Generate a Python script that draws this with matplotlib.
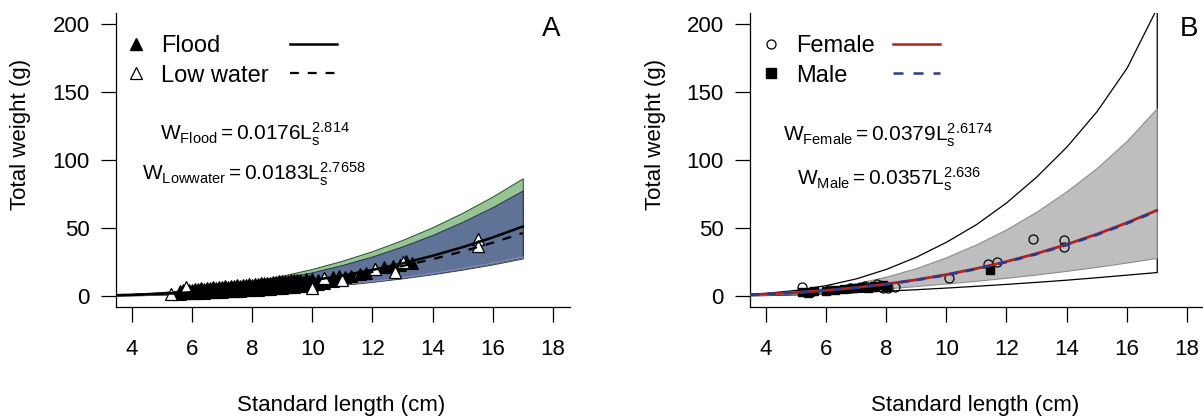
import matplotlib
matplotlib.use('Agg')
from matplotlib import pyplot as plt
from matplotlib.lines import Line2D

plt.rcParams['font.family'] = ['Liberation Sans', 'DejaVu Sans']
plt.rcParams['mathtext.fontset'] = 'custom'
plt.rcParams['mathtext.rm'] = 'Liberation Sans'
plt.rcParams['mathtext.it'] = 'Liberation Sans:italic'

# standard lengths (cm) where the fitted curves / bands are read
lengths = [3.5, 4, 5, 6, 7, 8, 9, 10, 11, 12, 13, 14, 15, 16, 17]

# panel A - fitted curves and bands (g)
flood_fit = [0.60, 0.87, 1.63, 2.73, 4.20, 6.12, 8.53, 11.47, 15.00, 19.16, 23.99, 29.56, 35.90, 43.05, 51.05]
flood_upper = [0.91, 1.32, 2.48, 4.15, 6.39, 9.30, 12.96, 17.43, 22.8, 29.1, 36.5, 44.9, 54.6, 65.4, 77.6]
flood_lower = [0.34, 0.49, 0.91, 1.53, 2.35, 3.43, 4.77, 6.42, 8.40, 10.73, 13.43, 16.55, 20.10, 24.11, 28.6]
low_fit = [0.585, 0.847, 1.569, 2.598, 3.979, 5.756, 7.974, 10.67, 13.89, 17.67, 22.05, 27.07, 32.76, 39.15, 46.30]
low_upper = [1.09, 1.58, 2.93, 4.86, 7.44, 10.76, 14.91, 19.95, 25.97, 33.04, 41.23, 50.62, 61.26, 73.21, 86.58]
low_lower = [0.33, 0.48, 0.90, 1.50, 2.30, 3.35, 4.65, 6.25, 8.15, 10.40, 13.00, 16.00, 19.40, 23.20, 27.6]

# panel A - observations (flood: filled triangles, low water: open triangles)
flood_len = [5.6, 5.6, 5.7, 5.7, 5.7, 5.8, 5.8, 5.9, 5.9, 5.9,
             6.0, 6.0, 6.1, 6.1, 6.1, 6.2, 6.2, 6.3, 6.3, 6.3,
             6.4, 6.4, 6.5, 6.5, 6.5, 6.6, 6.6, 6.7, 6.7, 6.7,
             6.8, 6.8, 6.9, 6.9, 6.9, 7.0, 7.0, 7.1, 7.1, 7.1,
             7.2, 7.2, 7.3, 7.3, 7.3, 7.4, 7.4, 7.5, 7.5, 7.5,
             7.6, 7.6, 7.7, 7.7, 7.7, 7.8, 7.8, 7.9, 7.9, 7.9,
             8.0, 8.0, 8.1, 8.1, 8.1, 8.2, 8.2, 8.3, 8.3, 8.3,
             8.4, 8.4, 8.5, 8.5, 8.5, 8.6, 8.6, 8.7, 8.7, 8.7,
             8.8, 8.8, 8.9, 8.9, 8.9, 9.0, 9.0, 9.1, 9.1, 9.1,
             9.2, 9.2, 9.3, 9.3, 9.3, 9.4, 9.4, 9.5, 9.5, 9.5,
             9.6, 9.6, 9.7, 9.7, 9.8, 9.8, 9.9, 9.9, 10.0, 10.0,
             10.2, 10.2, 10.4, 10.4, 10.7, 10.7, 10.9, 10.9, 11.1, 11.3,
             11.6, 11.8, 12.1, 12.4, 12.7, 12.9, 13.1, 13.3]
flood_wt = [1.8, 3.6, 2.0, 3.0, 4.2, 1.9, 3.9, 2.2, 3.2, 4.6,
            2.1, 4.4, 2.4, 3.6, 5.3, 2.3, 4.8, 2.6, 3.9, 5.6,
            2.5, 5.2, 2.8, 4.2, 6.1, 2.7, 5.6, 3.0, 4.5, 6.5,
            2.9, 6.0, 3.3, 4.9, 6.7, 3.2, 6.4, 3.5, 5.2, 7.0,
            3.4, 6.7, 3.8, 5.5, 7.4, 3.6, 7.0, 4.0, 5.8, 7.8,
            3.9, 7.4, 4.3, 6.2, 8.2, 4.1, 7.8, 4.6, 6.6, 8.6,
            4.4, 8.3, 4.8, 7.0, 9.0, 4.7, 8.8, 5.1, 7.4, 9.4,
            5.0, 9.3, 5.4, 7.8, 9.9, 5.3, 9.8, 5.8, 8.3, 10.4,
            5.7, 10.3, 6.1, 8.7, 10.9, 6.0, 10.8, 6.5, 9.2, 11.3,
            6.4, 11.2, 6.9, 9.6, 11.8, 6.8, 11.6, 7.3, 10.1, 12.1,
            7.2, 12.0, 7.8, 10.5, 7.6, 12.4, 8.3, 11.0, 8.2, 12.6,
            9.0, 12.0, 9.8, 13.2, 11.2, 14.0, 12.4, 15.0, 13.6, 14.5,
            16.0, 17.0, 19.5, 21.0, 22.0, 22.5, 25.5, 24.5]
low_len = [5.3, 5.8, 10.0, 10.4, 11.0, 12.1, 12.75, 13.0, 15.5, 15.5]
low_wt = [1.5, 6.5, 6.0, 13.5, 12.0, 19.5, 18.0, 25.0, 42.0, 36.5]

# panel B - fitted curves and bands (g)
female_fit = [1.006, 1.427, 2.559, 4.125, 6.174, 8.757, 11.92, 15.71, 20.16, 25.31, 31.20, 37.89, 45.38, 53.74, 62.98]
male_fit = [0.970, 1.379, 2.484, 4.017, 6.031, 8.574, 11.70, 15.44, 19.85, 24.97, 30.83, 37.49, 44.96, 53.30, 62.54]
outer_upper = [1.5, 2.3, 4.5, 8.0, 13.0, 20.0, 29.0, 40.0, 53.0, 69.0, 88.0, 110.0, 136.0, 168.0, 212.0]
outer_lower = [0.5, 0.7, 1.2, 2.0, 2.9, 3.9, 5.0, 6.2, 7.5, 8.9, 10.4, 12.0, 13.8, 15.7, 17.6]
grey_upper = [1.2, 1.8, 3.4, 5.9, 9.4, 14.2, 20.5, 28.5, 38.0, 49.0, 62.0, 77.0, 94.0, 114.0, 138.0]
grey_lower = [0.6, 0.9, 1.7, 2.8, 4.1, 5.6, 7.3, 9.2, 11.2, 13.4, 15.8, 18.5, 21.4, 24.6, 28.0]

# panel B - observations
female_len = [5.2, 5.5, 6.1, 6.8, 7.3, 7.7, 7.9, 8.05, 8.3, 10.1, 11.4, 11.7, 12.9, 13.9, 13.9]
female_wt = [6.5, 3.0, 4.5, 6.0, 7.0, 8.5, 6.0, 5.5, 6.5, 13.5, 23.5, 25.0, 42.0, 41.0, 36.0]
male_len = [5.2, 5.4, 5.6, 6.0, 6.3, 6.6, 6.9, 7.2, 7.4, 7.6, 7.9, 8.0, 11.45]
male_wt = [3.0, 2.5, 3.5, 3.5, 4.5, 5.0, 5.5, 6.5, 6.0, 7.5, 8.0, 6.5, 19.0]

green = '#96c493'
slate = '#5e7396'
red = '#b22222'
navy = '#2b3a8c'


def style_axes(ax):
    ax.set_xlim(3.47, 18.57)
    ax.set_ylim(-7.9, 208.1)
    ax.set_xticks([4, 6, 8, 10, 12, 14, 16, 18])
    ax.set_yticks([0, 50, 100, 150, 200])
    ax.spines['top'].set_visible(False)
    ax.spines['right'].set_visible(False)
    ax.spines['left'].set_linewidth(0.9)
    ax.spines['bottom'].set_linewidth(0.9)
    ax.tick_params(axis='both', length=11, width=0.9, labelsize=16)
    ax.tick_params(axis='x', pad=12.5)
    ax.tick_params(axis='y', pad=8)
    ax.set_xlabel('Standard length (cm)', fontsize=16)
    ax.set_ylabel('Total weight (g)', fontsize=16)
    ax.xaxis.label.set_va('center')
    ax.yaxis.label.set_va('center')


fig = plt.figure(figsize=(12.03, 4.16), dpi=100)
axA = fig.add_axes([0.0964, 0.2627, 0.3774, 0.7060])
axB = fig.add_axes([0.6234, 0.2627, 0.3774, 0.7060])

# ---- panel A ----
axA.fill_between(lengths, low_lower, low_upper, facecolor=green, edgecolor='#2f4a2f', lw=0.7, zorder=1)
axA.fill_between(lengths, flood_lower, flood_upper, facecolor=slate, edgecolor='#27304a', lw=0.7, zorder=2)
axA.plot(lengths, flood_lower, color='#8a86c8', lw=1.0, zorder=2.5)
axA.plot(flood_len, flood_wt, linestyle='none', marker='^', ms=8.5, mfc='black', mec='black', mew=0.8, zorder=3)
axA.plot(low_len, low_wt, linestyle='none', marker='^', ms=9, mfc='white', mec='black', mew=0.9, zorder=3)
axA.plot(lengths, flood_fit, color='black', lw=1.8, zorder=4)
axA.plot(lengths, low_fit, color='black', lw=1.6, dashes=(4, 4), zorder=4)
style_axes(axA)
axA.xaxis.set_label_coords(0.495, -0.335)
axA.yaxis.set_label_coords(-0.211, 0.588)

legA1 = axA.legend(handles=[Line2D([], [], ls='none', marker='^', ms=9, mfc='black', mec='black'),
                            Line2D([], [], ls='none', marker='^', ms=9, mfc='white', mec='black', mew=0.9)],
                   labels=['Flood', 'Low water'], loc='upper left', bbox_to_anchor=(0.019, 0.925),
                   frameon=False, fontsize=17, handlelength=1.0, handletextpad=0.55,
                   labelspacing=0.32, borderpad=0, borderaxespad=0)
axA.add_artist(legA1)
axA.legend(handles=[Line2D([], [], color='black', lw=1.8),
                    Line2D([], [], color='black', lw=1.6, dashes=(4, 4))],
           labels=['', ''], loc='upper left', bbox_to_anchor=(0.383, 0.925),
           frameon=False, fontsize=17, handlelength=2.0, handletextpad=0,
           labelspacing=0.32, borderpad=0, borderaxespad=0)

axA.text(4.93, 114.2, r'$\mathregular{W_{Flood} = 0.0176L_s^{2.814}}$', fontsize=15, va='baseline')
axA.text(4.32, 85.0, r'$\mathregular{W_{Lowwater} = 0.0183L_s^{2.7658}}$', fontsize=15, va='baseline')
axA.text(17.94, 196.3, 'A', fontsize=20, ha='center', va='center')

# ---- panel B ----
axB.fill_between(lengths, outer_lower, outer_upper, facecolor='white', edgecolor='black', lw=0.9, zorder=1)
axB.fill_between(lengths, grey_lower, grey_upper, facecolor='#bebebe', edgecolor='#8c8c8c', lw=0.8, zorder=2)
axB.plot(female_len, female_wt, linestyle='none', marker='o', ms=6.5, mfc='none', mec='black', mew=0.9, zorder=3)
axB.plot(male_len, male_wt, linestyle='none', marker='s', ms=6, mfc='black', mec='black', zorder=3)
axB.plot(lengths, female_fit, color=red, lw=2.0, zorder=4)
axB.plot(lengths, male_fit, color=navy, lw=2.0, dashes=(3, 3), zorder=5)
style_axes(axB)
axB.xaxis.set_label_coords(0.496, -0.335)
axB.yaxis.set_label_coords(-0.207, 0.588)

legB1 = axB.legend(handles=[Line2D([], [], ls='none', marker='o', ms=6.5, mfc='white', mec='black', mew=0.9),
                            Line2D([], [], ls='none', marker='s', ms=7, mfc='black', mec='black')],
                   labels=['Female', 'Male'], loc='upper left', bbox_to_anchor=(0.02, 0.925),
                   frameon=False, fontsize=17, handlelength=1.0, handletextpad=0.55,
                   labelspacing=0.32, borderpad=0, borderaxespad=0)
axB.add_artist(legB1)
axB.legend(handles=[Line2D([], [], color=red, lw=1.8),
                    Line2D([], [], color=navy, lw=1.8, dashes=(4, 4))],
           labels=['', ''], loc='upper left', bbox_to_anchor=(0.315, 0.925),
           frameon=False, fontsize=17, handlelength=2.0, handletextpad=0,
           labelspacing=0.32, borderpad=0, borderaxespad=0)

axB.text(4.58, 113.5, r'$\mathregular{W_{Female} = 0.0379L_s^{2.6174}}$', fontsize=15, va='baseline', zorder=6)
axB.text(5.02, 81.5, r'$\mathregular{W_{Male} = 0.0357L_s^{2.636}}$', fontsize=15, va='baseline', zorder=6)
axB.text(18.07, 196.3, 'B', fontsize=20, ha='center', va='center', clip_on=False)

fig.savefig('out.png', dpi=100)
plt.close(fig)
